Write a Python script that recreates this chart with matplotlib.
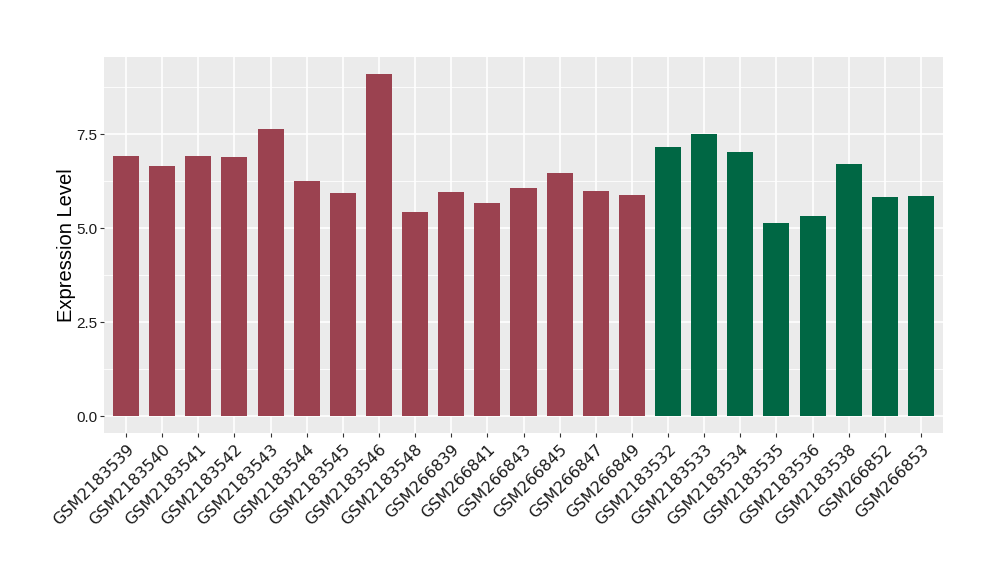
import matplotlib
matplotlib.use('Agg')
import matplotlib.pyplot as plt
import numpy as np

# sample ids, in plotted order
samples = ['GSM2183539', 'GSM2183540', 'GSM2183541', 'GSM2183542', 'GSM2183543',
           'GSM2183544', 'GSM2183545', 'GSM2183546', 'GSM2183548', 'GSM266839',
           'GSM266841', 'GSM266843', 'GSM266845', 'GSM266847', 'GSM266849',
           'GSM2183532', 'GSM2183533', 'GSM2183534', 'GSM2183535', 'GSM2183536',
           'GSM2183538', 'GSM266852', 'GSM266853']
expression = [6.92, 6.66, 6.92, 6.90, 7.64, 6.26, 5.94, 9.11, 5.43, 5.96,
              5.67, 6.07, 6.47, 5.99, 5.88,
              7.16, 7.51, 7.03, 5.14, 5.32, 6.71, 5.83, 5.86]
group = ['a'] * 15 + ['b'] * 8
group_colors = {'a': '#9B4250', 'b': '#006744'}

y_ticks = [0.0, 2.5, 5.0, 7.5]
y_minor = [1.25, 3.75, 6.25, 8.75]

fig = plt.figure(figsize=(10, 5.8), dpi=100)
ax = fig.add_axes([0.1043, 0.2529, 0.8384, 0.6493])
ax.set_facecolor('#EBEBEB')

x = np.arange(len(samples))
ax.bar(x, expression, width=0.72, color=[group_colors[g] for g in group], zorder=3)

# ggplot-like grid
for v in y_minor:
    ax.axhline(v, color='white', lw=0.6, zorder=1)
for v in y_ticks:
    ax.axhline(v, color='white', lw=1.2, zorder=1)
for xi in x:
    ax.axvline(xi, color='white', lw=1.2, zorder=1)

ymax = max(expression)
ax.set_ylim(-0.05 * ymax, ymax * 1.05)
ax.set_xlim(-0.6, len(samples) - 0.4)

ax.set_yticks(y_ticks)
ax.set_yticklabels(['%.1f' % v for v in y_ticks], fontsize=11, family='Liberation Sans', color='#1A1A1A')
ax.set_xticks(x)
ax.set_xticklabels(samples, rotation=45, ha='right', rotation_mode='anchor',
                   fontsize=11.5, family='DejaVu Sans', color='#1A1A1A')
ax.tick_params(axis='both', length=3, color='#333333', width=0.8, pad=2)
ax.tick_params(axis='x', pad=3)

ax.set_ylabel('Expression Level', fontsize=14.5, family='Liberation Sans', labelpad=0)

for s in ax.spines.values():
    s.set_visible(False)

fig.savefig('out.png', dpi=100)
